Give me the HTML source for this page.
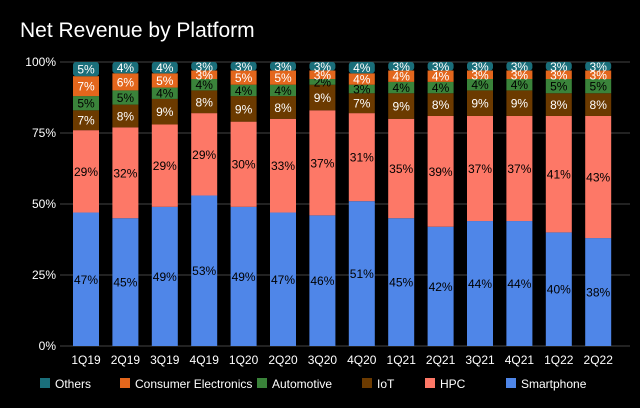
<!DOCTYPE html>
<html><head><meta charset="utf-8"><style>
body{margin:0;background:#000;}
svg{display:block;font-family:"Liberation Sans",sans-serif;}
</style></head><body>
<svg id="chart" width="640" height="408">
<text x="20" y="37" fill="#fff" font-size="21">Net Revenue by Platform</text>
<g id="grid"></g><g id="bars"></g><g id="legend"></g>
</svg>
<script>
const categories=["1Q19","2Q19","3Q19","4Q19","1Q20","2Q20","3Q20","4Q20","1Q21","2Q21","3Q21","4Q21","1Q22","2Q22"];
const smartphone=[47,45,49,53,49,47,46,51,45,42,44,44,40,38];
const hpc=[29,32,29,29,30,33,37,31,35,39,37,37,41,43];
const iot=[7,8,9,8,9,8,9,7,9,8,9,9,8,8];
const automotive=[5,5,4,4,4,4,2,3,4,4,4,4,5,5];
const consumer=[7,6,5,3,5,5,3,4,4,4,3,3,3,3];
const others=[5,4,4,3,3,3,3,4,3,3,3,3,3,3];
const yTicks=[0,25,50,75,100];
const seriesNames=["Smartphone","HPC","IoT","Automotive","Consumer Electronics","Others"];
const seriesData=[smartphone,hpc,iot,automotive,consumer,others];
const colors=["#4f86e8","#fd7867","#6b3a00","#3a833a","#e3661c","#1a6e7a"];
const textColors=["#000","#000","#fff","#000","#fff","#fff"];
const NS="http://www.w3.org/2000/svg";
const y0=346,y1=62,xStart=86,step=39.4,bw=26;
const yS=v=>y0-(y0-y1)*v/100;
const xS=i=>xStart+i*step;
function mk(tag,attrs,parent){const e=document.createElementNS(NS,tag);for(const k in attrs)e.setAttribute(k,attrs[k]);parent.appendChild(e);return e;}
const grid=document.getElementById('grid'),bars=document.getElementById('bars'),legend=document.getElementById('legend');
yTicks.forEach(t=>{
 const l=mk('line',{x1:60,x2:630,y1:yS(t),y2:yS(t),stroke:'#444','stroke-width':1},grid);
 
 
 const tx=mk('text',{x:56,y:yS(t)+4,fill:'#fff','font-size':12,'text-anchor':'end'},grid);
 tx.textContent=t+'%';
 
 
});
categories.forEach((c,i)=>{
 let cum=0;
 seriesData.forEach((s,k)=>{
  const v=s[i];const top=yS(cum+v),bot=yS(cum);
  const r=mk('rect',{x:xS(i)-bw/2,y:top,width:bw,height:bot-top,fill:colors[k],rx:k===5?3:0},bars);
  
  
  const t=mk('text',{x:xS(i),y:(top+bot)/2+4.5,fill:textColors[k],'font-size':12,'text-anchor':'middle'},bars);
  t.textContent=v+'%';
  
  
  cum+=v;
 });
 const xl=mk('text',{x:xS(i),y:364,fill:'#fff','font-size':12,'text-anchor':'middle'},bars);
 xl.textContent=c;
 
 
});
const legendOrder=[5,4,3,2,1,0];
const legendX=[40,120,257,362,425,506];
legendOrder.forEach((k,j)=>{
 const g=mk('g',{},legend);
 
 
 mk('rect',{x:legendX[j],y:378,width:10,height:10,fill:colors[k]},g);
 const t=mk('text',{x:legendX[j]+15,y:388,fill:'#fff','font-size':12},g);
 t.textContent=seriesNames[k];
});
</script>
</body></html>
